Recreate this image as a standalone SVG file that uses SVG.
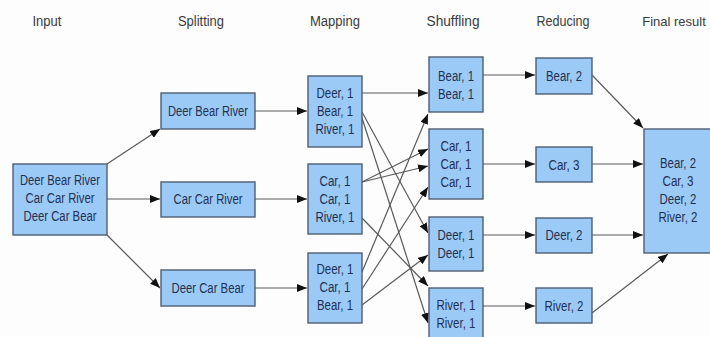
<svg xmlns="http://www.w3.org/2000/svg" width="710" height="337" viewBox="0 0 710 337">
<style>
.box{fill:#9ccaf6;stroke:#4d5e74;stroke-width:1.4}
.t{font-family:"Liberation Sans",Arial,sans-serif;font-size:14px;fill:#1f3052;text-anchor:middle}
.h{font-family:"Liberation Sans",Arial,sans-serif;font-size:15.5px;fill:#3a3a3a;text-anchor:middle}
.c line{stroke:#5a5a5a;stroke-width:1.2;marker-end:url(#ah)}
</style>
<defs>
<marker id="ah" viewBox="0 0 10 8" refX="10" refY="4" markerWidth="10" markerHeight="8" markerUnits="userSpaceOnUse" orient="auto">
<path d="M0,0 L10,4 L0,8 z" fill="#111"/>
</marker>
</defs>
<rect width="710" height="337" fill="#fdfdfd"/>
<g id="headings">
<text class="h" x="47" y="26" textLength="29" lengthAdjust="spacingAndGlyphs">Input</text>
<text class="h" x="201" y="26" textLength="46" lengthAdjust="spacingAndGlyphs">Splitting</text>
<text class="h" x="335" y="26" textLength="50" lengthAdjust="spacingAndGlyphs">Mapping</text>
<text class="h" x="453" y="26" textLength="53" lengthAdjust="spacingAndGlyphs">Shuffling</text>
<text class="h" x="563" y="26" textLength="53" lengthAdjust="spacingAndGlyphs">Reducing</text>
<text class="h" x="674" y="26" style="font-size:13px">Final result</text>
</g>
<g class="c" id="connectors">
<line x1="107" y1="164" x2="160" y2="129"/>
<line x1="107" y1="199" x2="160" y2="199"/>
<line x1="107" y1="235" x2="160" y2="288"/>
<line x1="255" y1="111" x2="307" y2="111"/>
<line x1="255" y1="199" x2="307" y2="199"/>
<line x1="255" y1="288" x2="307" y2="288"/>
<line x1="362" y1="93" x2="428" y2="93"/>
<line x1="362" y1="112" x2="428" y2="233"/>
<line x1="362" y1="118" x2="428" y2="323"/>
<line x1="362" y1="182" x2="428" y2="149"/>
<line x1="362" y1="182" x2="428" y2="166"/>
<line x1="362" y1="218" x2="428" y2="286"/>
<line x1="362" y1="272" x2="428" y2="114"/>
<line x1="362" y1="289" x2="428" y2="187"/>
<line x1="362" y1="305" x2="428" y2="255"/>
<line x1="483" y1="75" x2="535" y2="75"/>
<line x1="483" y1="164" x2="535" y2="164"/>
<line x1="483" y1="235" x2="535" y2="235"/>
<line x1="483" y1="306" x2="535" y2="306"/>
<line x1="592" y1="75" x2="643" y2="128"/>
<line x1="592" y1="164" x2="643" y2="164"/>
<line x1="592" y1="235" x2="643" y2="235"/>
<line x1="592" y1="313" x2="668" y2="254"/>
</g>
<g id="input"><rect class="box" x="13" y="164" width="94" height="71"/>
<text class="t" x="60" y="185" textLength="80" lengthAdjust="spacingAndGlyphs">Deer Bear River</text>
<text class="t" x="60" y="203" textLength="69" lengthAdjust="spacingAndGlyphs">Car Car River</text>
<text class="t" x="60" y="221" textLength="73" lengthAdjust="spacingAndGlyphs">Deer Car Bear</text></g>
<g id="split1"><rect class="box" x="161" y="93" width="94" height="36"/><text class="t" x="208" y="116" textLength="80" lengthAdjust="spacingAndGlyphs">Deer Bear River</text></g>
<g id="split2"><rect class="box" x="161" y="182" width="94" height="35"/><text class="t" x="208" y="204" textLength="69" lengthAdjust="spacingAndGlyphs">Car Car River</text></g>
<g id="split3"><rect class="box" x="161" y="270" width="94" height="36"/><text class="t" x="208" y="293" textLength="73" lengthAdjust="spacingAndGlyphs">Deer Car Bear</text></g>
<g id="map1"><rect class="box" x="308" y="76" width="54" height="71"/>
<text class="t" x="335" y="98" textLength="37" lengthAdjust="spacingAndGlyphs">Deer, 1</text>
<text class="t" x="335" y="116" textLength="36" lengthAdjust="spacingAndGlyphs">Bear, 1</text>
<text class="t" x="335" y="134" textLength="39" lengthAdjust="spacingAndGlyphs">River, 1</text></g>
<g id="map2"><rect class="box" x="308" y="164" width="54" height="70"/>
<text class="t" x="335" y="186" textLength="31" lengthAdjust="spacingAndGlyphs">Car, 1</text>
<text class="t" x="335" y="204" textLength="31" lengthAdjust="spacingAndGlyphs">Car, 1</text>
<text class="t" x="335" y="222" textLength="39" lengthAdjust="spacingAndGlyphs">River, 1</text></g>
<g id="map3"><rect class="box" x="308" y="253" width="54" height="70"/>
<text class="t" x="335" y="274" textLength="37" lengthAdjust="spacingAndGlyphs">Deer, 1</text>
<text class="t" x="335" y="292" textLength="31" lengthAdjust="spacingAndGlyphs">Car, 1</text>
<text class="t" x="335" y="310" textLength="36" lengthAdjust="spacingAndGlyphs">Bear, 1</text></g>
<g id="shuf1"><rect class="box" x="429" y="57" width="54" height="55"/>
<text class="t" x="456" y="81" textLength="36" lengthAdjust="spacingAndGlyphs">Bear, 1</text>
<text class="t" x="456" y="99" textLength="36" lengthAdjust="spacingAndGlyphs">Bear, 1</text></g>
<g id="shuf2"><rect class="box" x="429" y="129" width="54" height="70"/>
<text class="t" x="456" y="151" textLength="31" lengthAdjust="spacingAndGlyphs">Car, 1</text>
<text class="t" x="456" y="169" textLength="31" lengthAdjust="spacingAndGlyphs">Car, 1</text>
<text class="t" x="456" y="187" textLength="31" lengthAdjust="spacingAndGlyphs">Car, 1</text></g>
<g id="shuf3"><rect class="box" x="429" y="217" width="54" height="54"/>
<text class="t" x="456" y="240" textLength="37" lengthAdjust="spacingAndGlyphs">Deer, 1</text>
<text class="t" x="456" y="258" textLength="37" lengthAdjust="spacingAndGlyphs">Deer, 1</text></g>
<g id="shuf4"><rect class="box" x="429" y="288" width="54" height="54"/>
<text class="t" x="456" y="310" textLength="39" lengthAdjust="spacingAndGlyphs">River, 1</text>
<text class="t" x="456" y="328" textLength="39" lengthAdjust="spacingAndGlyphs">River, 1</text></g>
<g id="red1"><rect class="box" x="536" y="58" width="56" height="36"/><text class="t" x="564" y="81" textLength="36" lengthAdjust="spacingAndGlyphs">Bear, 2</text></g>
<g id="red2"><rect class="box" x="536" y="147" width="56" height="35"/><text class="t" x="564" y="170" textLength="31" lengthAdjust="spacingAndGlyphs">Car, 3</text></g>
<g id="red3"><rect class="box" x="536" y="218" width="56" height="35"/><text class="t" x="564" y="240" textLength="37" lengthAdjust="spacingAndGlyphs">Deer, 2</text></g>
<g id="red4"><rect class="box" x="536" y="288" width="56" height="35"/><text class="t" x="564" y="311" textLength="39" lengthAdjust="spacingAndGlyphs">River, 2</text></g>
<g id="final"><rect class="box" x="644" y="129" width="68" height="124"/>
<text class="t" x="678" y="168" textLength="36" lengthAdjust="spacingAndGlyphs">Bear, 2</text>
<text class="t" x="678" y="186" textLength="31" lengthAdjust="spacingAndGlyphs">Car, 3</text>
<text class="t" x="678" y="204" textLength="37" lengthAdjust="spacingAndGlyphs">Deer, 2</text>
<text class="t" x="678" y="222" textLength="39" lengthAdjust="spacingAndGlyphs">River, 2</text></g>
</svg>
